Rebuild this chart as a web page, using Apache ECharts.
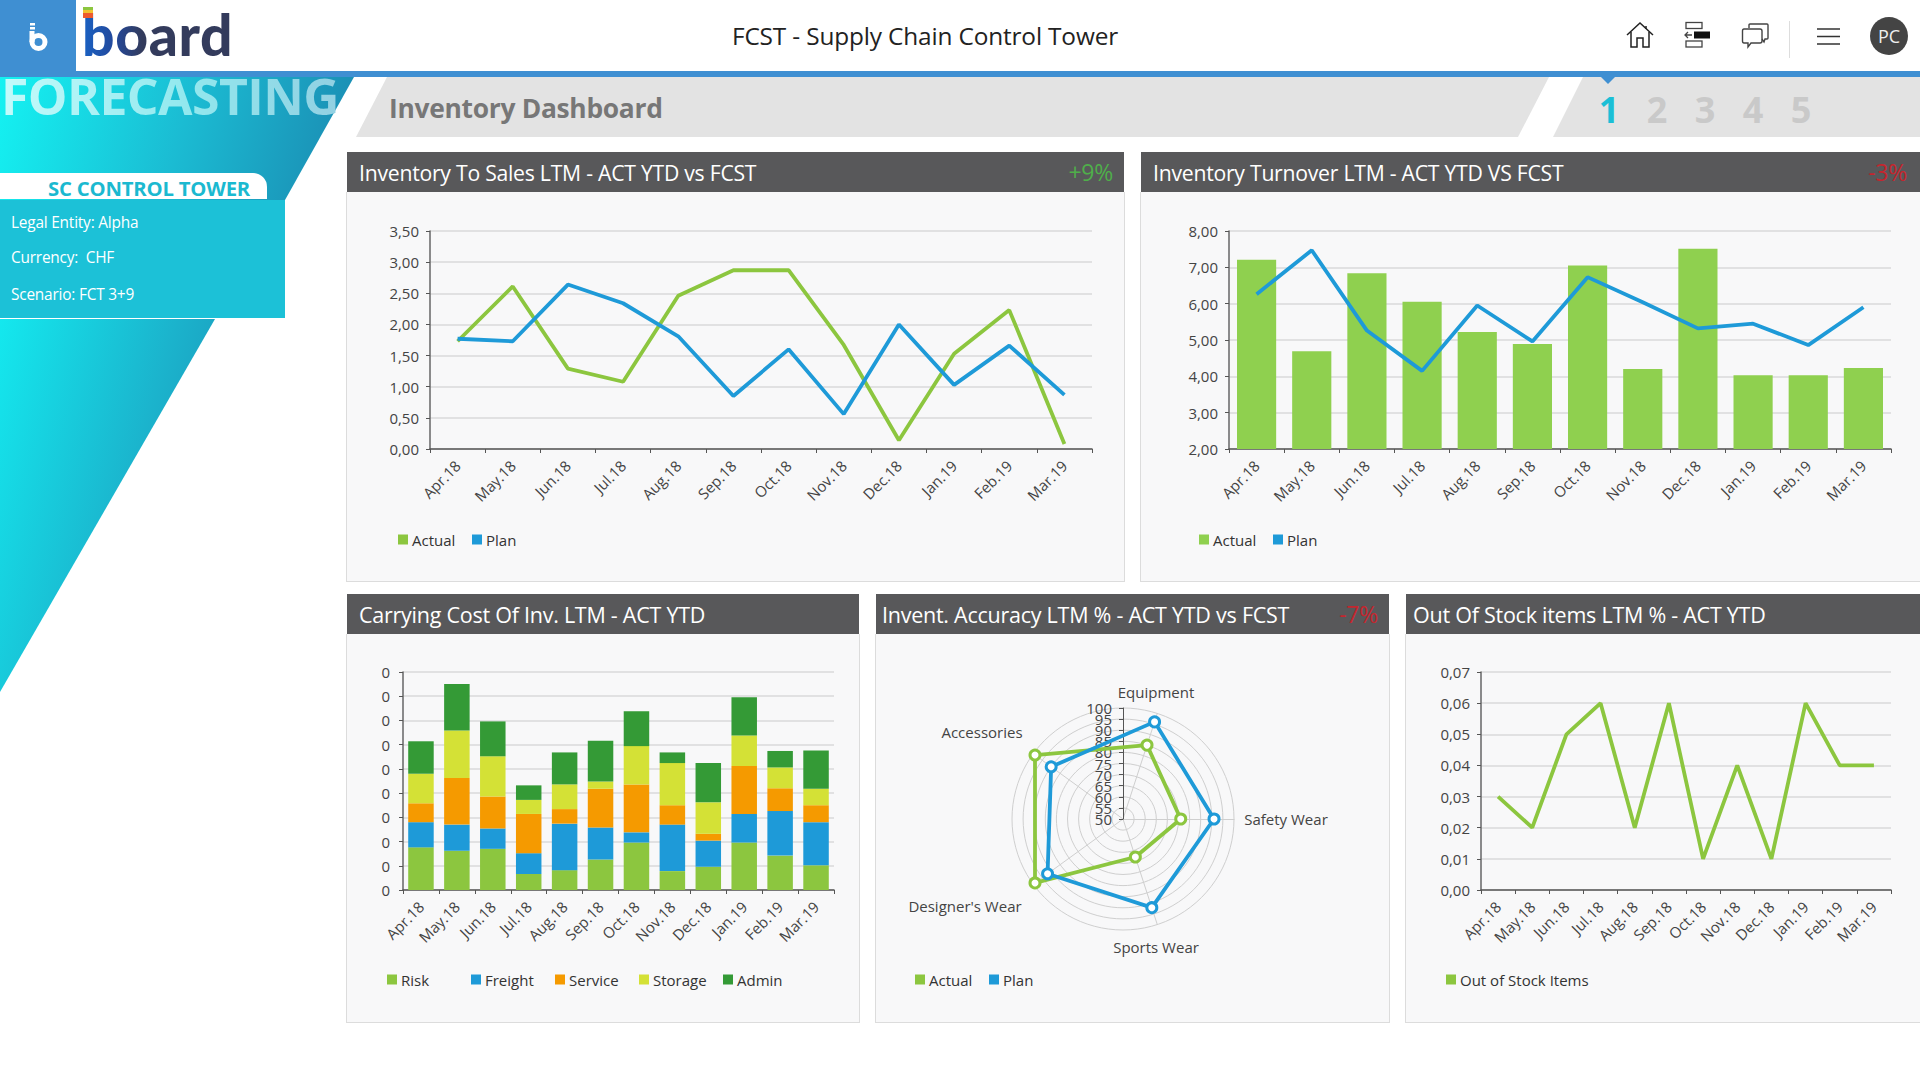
<!DOCTYPE html>
<html>
<head>
<meta charset="utf-8">
<title>FCST - Supply Chain Control Tower</title>
<script src="https://cdn.jsdelivr.net/npm/echarts@6/dist/echarts.min.js"></script>
<style>
  html, body { margin: 0; padding: 0; width: 1920px; height: 1080px; overflow: hidden; background: #fff; font-family: "Open Sans", sans-serif; }
  .abs { position: absolute; white-space: nowrap; }
  #logoBox { left: 0; top: 0; width: 76px; height: 71px; background: #3f8fd2; }
  #topBar { left: 0; top: 71px; width: 1920px; height: 6px; background: #3f8fd2; z-index: 5; }
  #side1 { left: 0; top: 77px; width: 354px; height: 123px; clip-path: polygon(0 0, 100% 0, 285px 100%, 0 100%); background: linear-gradient(105deg, #14f2f2 0%, #1bbcd3 50%, #1b88b0 100%); }
  #side2 { left: 0; top: 319px; width: 215px; height: 373px; clip-path: polygon(0 0, 100% 0, 0 100%); background: linear-gradient(105deg, #14e8ee 0%, #1bb4cd 55%, #1b8cb3 100%); }
  #sideBox { left: 0; top: 200px; width: 285px; height: 118px; background: #1cc1d7; }
  #pill { left: 0; top: 173px; width: 267px; height: 26px; background: #fff; border-radius: 0 14px 0 0; }
  #pillText { left: 0; top: 174px; width: 298px; height: 26px; line-height: 28px; text-align: center; font-size: 20.3px; font-weight: 700; color: #1bb9d0; letter-spacing: -0.2px; }
  #forecast { left: 1px; top: 64px; font-size: 50px; line-height: 64px; font-weight: 700; letter-spacing: -0.6px; background: linear-gradient(90deg, #c4fbfb 0%, #92e8ee 55%, #92d0e2 100%); -webkit-background-clip: text; background-clip: text; color: transparent; }
  .info { left: 11px; font-size: 15.4px; line-height: 20px; color: #fff; letter-spacing: -0.2px; }
  #band1 { left: 356px; top: 77px; width: 1193px; height: 60px; background: #e3e3e3; clip-path: polygon(31px 0, 100% 0, 1162px 100%, 0 100%); }
  #band2 { left: 1553px; top: 77px; width: 367px; height: 60px; background: #e3e3e3; clip-path: polygon(30px 0, 100% 0, 100% 100%, 0 100%); }
  #pageTitle { left: 389px; top: 88px; font-size: 26.4px; line-height: 40px; font-weight: 700; color: #777; letter-spacing: -0.3px; }
  .step { top: 88px; width: 40px; text-align: center; font-size: 36px; line-height: 44px; font-weight: 700; color: #c9c9c9; }
  #marker { left: 1601px; top: 77px; width: 0; height: 0; border-left: 7px solid transparent; border-right: 7px solid transparent; border-top: 7px solid #3f8fd2; }
  #mainTitle { left: 0; width: 1850px; top: 18px; line-height: 36px; font-size: 24.4px; color: #222; text-align: center; letter-spacing: -0.15px; }
  #avatar { left: 1870px; top: 17px; width: 38px; height: 38px; border-radius: 50%; background: #444; color: #eee; font-size: 18px; line-height: 38px; text-align: center; }
  #sep { left: 1789px; top: 21px; width: 1px; height: 37px; background: #ddd; }
  #wordmark { left: 82px; top: 0; font-family: Lato, sans-serif; font-weight: 900; font-size: 57px; line-height: 68px; letter-spacing: 0.6px; background: linear-gradient(90deg, #1a62c4 0%, #23489a 22%, #333b5c 40%, #333b5c 100%); -webkit-background-clip: text; background-clip: text; color: transparent; }
  .panel { position: absolute; background: #f8f8f9; border: 1px solid #dcdcdc; border-top: none; box-sizing: border-box; }
  .panelHead { position: absolute; left: 0; right: 0; top: -40px; height: 40px; background: #58585a; color: #fff; font-size: 21.5px; line-height: 41px; padding-left: 12px; white-space: nowrap; letter-spacing: -0.25px; }
  .panelHead.upper { font-size: 21.2px; }
  .panelHead span { position: absolute; right: 11px; top: 0; font-size: 23px; }
  .chart { position: absolute; left: 0; top: 0; width: 100%; height: 100%; }
</style>
</head>
<body>
<div class="abs" id="side1"></div>
<div class="abs" id="forecast">FORECASTING</div>
<div class="abs" id="side2"></div>
<div class="abs" id="sideBox"></div>
<div class="abs" id="pill"></div>
<div class="abs" id="pillText">SC CONTROL TOWER</div>
<div class="abs info" style="top:213px">Legal Entity: Alpha</div>
<div class="abs info" style="top:248px">Currency:&nbsp; CHF</div>
<div class="abs info" style="top:285px">Scenario: FCT 3+9</div>

<div class="abs" id="logoBox"></div>
<svg class="abs" style="left:28px;top:21px" width="22" height="32" viewBox="0 0 22 32">
  <rect x="2" y="2" width="5" height="2.500" fill="#fff"/><rect x="2" y="6" width="5" height="2.500" fill="#fff"/>
  <circle cx="10.500" cy="21" r="6.500" fill="none" stroke="#fff" stroke-width="5"/><rect x="1.500" y="10" width="5" height="11" fill="#fff"/>
</svg>
<div class="abs" id="wordmark">board</div>
<svg class="abs" style="left:83px;top:7px" width="10" height="11"><rect width="10" height="3" fill="#8cc63f"/><rect y="3" width="10" height="3" fill="#f2c230"/><rect y="6" width="10" height="5" fill="#ee5a2e"/></svg>
<div class="abs" id="topBar"></div>
<div class="abs" id="mainTitle">FCST - Supply Chain Control Tower</div>

<svg class="abs" style="left:1625px;top:20px" width="30" height="30" viewBox="0 0 30 30" fill="none" stroke="#222" stroke-width="1.5">
  <path d="M2 15 L15 3 L28 15"/><path d="M6 12 V27 H12 V18 H18 V27 H24 V12"/><path d="M21 6 V9"/>
</svg>
<svg class="abs" style="left:1684px;top:21px" width="28" height="28" viewBox="0 0 28 28" fill="none" stroke="#444" stroke-width="1.3">
  <rect x="2" y="1.500" width="16" height="6"/><rect x="2" y="20" width="16" height="6"/><rect x="10" y="10.500" width="16" height="7" fill="#111" stroke="none"/><path d="M8 14 H1 M4 11 L1 14 L4 17"/>
</svg>
<svg class="abs" style="left:1741px;top:22px" width="30" height="28" viewBox="0 0 30 28" fill="none" stroke="#444" stroke-width="1.4">
  <path d="M8 6 V3 Q8 2 9 2 H26 Q27 2 27 3 V16 Q27 17 26 17 H24 L23 20 L21 17"/>
  <path d="M3 7 H19 Q21 7 21 9 V19 Q21 21 19 21 H10 L7 25 V21 H3 Q1.500 21 1.500 19 V9 Q1.500 7 3 7 Z"/>
</svg>
<div class="abs" id="sep"></div>
<svg class="abs" style="left:1817px;top:28px" width="23" height="18" stroke="#333" stroke-width="1.3"><path d="M0 1 H23 M0 8.500 H23 M0 16 H23"/></svg>
<div class="abs" id="avatar">PC</div>

<div class="abs" id="band1"></div>
<div class="abs" id="band2"></div>
<div class="abs" id="marker"></div>
<div class="abs" id="pageTitle">Inventory Dashboard</div>
<div class="abs step" style="left:1589px;color:#1bbfd6">1</div>
<div class="abs step" style="left:1637px">2</div>
<div class="abs step" style="left:1685px">3</div>
<div class="abs step" style="left:1733px">4</div>
<div class="abs step" style="left:1781px">5</div>

<div class="panel" style="left:346px;top:192px;width:779px;height:390px">
  <div class="panelHead upper">Inventory To Sales LTM - ACT YTD vs FCST<span style="color:#4fae4a">+9%</span></div>
  <div class="chart" id="chartSales"></div>
</div>
<div class="panel" style="left:1140px;top:192px;width:781px;height:390px">
  <div class="panelHead upper">Inventory Turnover LTM - ACT YTD VS FCST<span style="color:#c4262e;right:13px">-3%</span></div>
  <div class="chart" id="chartTurnover"></div>
</div>
<div class="panel" style="left:346px;top:634px;width:514px;height:389px">
  <div class="panelHead">Carrying Cost Of Inv. LTM - ACT YTD</div>
  <div class="chart" id="chartCost"></div>
</div>
<div class="panel" style="left:875px;top:634px;width:515px;height:389px">
  <div class="panelHead" style="padding-left:6px">Invent. Accuracy LTM % - ACT YTD vs FCST<span style="color:#c4262e">-7%</span></div>
  <div class="chart" id="chartAccuracy"></div>
</div>
<div class="panel" style="left:1405px;top:634px;width:516px;height:389px">
  <div class="panelHead" style="padding-left:7px">Out Of Stock items LTM % - ACT YTD</div>
  <div class="chart" id="chartStock"></div>
</div>

<script>
const months = ["Apr.18", "May.18", "Jun.18", "Jul.18", "Aug.18", "Sep.18", "Oct.18", "Nov.18", "Dec.18", "Jan.19", "Feb.19", "Mar.19"];

const salesActual = [1.73, 2.61, 1.29, 1.08, 2.46, 2.87, 2.87, 1.67, 0.14, 1.53, 2.23, 0.08];
const salesPlan = [1.77, 1.73, 2.64, 2.34, 1.81, 0.85, 1.60, 0.56, 2.00, 1.03, 1.66, 0.87];

const turnoverActual = [7.21, 4.69, 6.84, 6.05, 5.22, 4.89, 7.05, 4.20, 7.51, 4.03, 4.03, 4.23];
const turnoverPlan = [6.26, 7.47, 5.26, 4.15, 5.95, 4.96, 6.73, 6.04, 5.32, 5.45, 4.86, 5.90];

const costRisk = [0.088, 0.081, 0.085, 0.033, 0.041, 0.063, 0.098, 0.039, 0.048, 0.098, 0.071, 0.051];
const costFreight = [0.052, 0.054, 0.042, 0.043, 0.096, 0.066, 0.021, 0.096, 0.054, 0.059, 0.092, 0.089];
const costService = [0.039, 0.096, 0.066, 0.081, 0.030, 0.080, 0.099, 0.040, 0.014, 0.099, 0.047, 0.035];
const costStorage = [0.061, 0.098, 0.083, 0.029, 0.051, 0.015, 0.079, 0.087, 0.065, 0.063, 0.043, 0.034];
const costAdmin = [0.067, 0.096, 0.072, 0.030, 0.066, 0.084, 0.072, 0.022, 0.081, 0.079, 0.034, 0.079];

const radarAxes = ["Equipment", "Accessories", "Designer's Wear", "Sports Wear", "Safety Wear"];
const accuracyActual = [85, 99, 99, 68, 76];
const accuracyPlan = [96, 90, 92, 92, 91];

const stockItems = [0.03, 0.02, 0.05, 0.06, 0.02, 0.06, 0.01, 0.04, 0.01, 0.06, 0.04, 0.04];

const GREEN = "#8cc63f";
const BAR_GREEN = "#8fd04f";
const BLUE = "#1e9ad8";
const ORANGE = "#f59a00";
const LIME = "#d4e136";
const DARK_GREEN = "#349a36";
const FONT = '"Open Sans", sans-serif';

const commaLabel = (v) => v.toFixed(2).replace(".", ",");

function makeChart(id, option) {
  const chart = echarts.init(document.getElementById(id), null, { renderer: "svg" });
  chart.setOption({ animation: false, textStyle: { fontFamily: FONT }, ...option });
  return chart;
}

// one legend per item so the squares sit where they do in the dashboard
function legendsAt(names, xs, top) {
  return names.map((name, i) => ({
    data: [name],
    left: xs[i],
    top: top,
    icon: "rect",
    itemWidth: 10,
    itemHeight: 10,
    itemGap: 0,
    padding: 0,
    textStyle: { color: "#333", fontSize: 15, fontFamily: FONT, padding: [0, 0, 0, -1] },
  }));
}

function monthAxis() {
  return {
    type: "category",
    data: months,
    axisLine: { lineStyle: { color: "#555", width: 1.5 } },
    axisTick: { show: true, length: 4, lineStyle: { color: "#555" } },
    axisLabel: { rotate: 45, fontSize: 15, color: "#444", margin: 14, interval: 0 },
  };
}

function valueAxis(min, max, interval, formatter, margin) {
  return {
    type: "value",
    min: min,
    max: max,
    interval: interval,
    axisLine: { show: true, lineStyle: { color: "#666", width: 1.5 } },
    axisTick: { show: true, length: 4, lineStyle: { color: "#555" } },
    axisLabel: { fontSize: 15, color: "#444", margin: margin || 11, formatter: formatter },
    splitLine: { lineStyle: { color: "#dadada", width: 1.5 } },
  };
}

function lineSeries(name, data, color) {
  return {
    name: name,
    type: "line",
    data: data,
    symbol: "none",
    itemStyle: { color: color },
    lineStyle: { color: color, width: 3.8 },
  };
}

makeChart("chartSales", {
  grid: { left: 83, top: 39, width: 662, height: 218 },
  legend: legendsAt(["Actual", "Plan"], [51, 125], 340),
  xAxis: monthAxis(),
  yAxis: valueAxis(0, 3.5, 0.5, commaLabel),
  series: [lineSeries("Actual", salesActual, GREEN), lineSeries("Plan", salesPlan, BLUE)],
});

makeChart("chartTurnover", {
  grid: { left: 88, top: 39, width: 662, height: 218 },
  legend: legendsAt(["Actual", "Plan"], [58, 132], 340),
  xAxis: monthAxis(),
  yAxis: valueAxis(2, 8, 1, commaLabel),
  series: [
    { name: "Actual", type: "bar", data: turnoverActual, barWidth: "71%", itemStyle: { color: BAR_GREEN } },
    lineSeries("Plan", turnoverPlan, BLUE),
  ],
});

// the real axis runs on small decimals, so every label rounds to 0
const costLayers = [
  ["Risk", costRisk, GREEN],
  ["Freight", costFreight, BLUE],
  ["Service", costService, ORANGE],
  ["Storage", costStorage, LIME],
  ["Admin", costAdmin, DARK_GREEN],
];

makeChart("chartCost", {
  grid: { left: 56, top: 38, width: 431, height: 218 },
  legend: legendsAt(costLayers.map((l) => l[0]), [40, 124, 208, 292, 376], 338),
  xAxis: monthAxis(),
  yAxis: valueAxis(0, 0.45, 0.05, (v) => v.toFixed(0), 13),
  series: costLayers.map(([name, data, color]) => ({
    name: name,
    type: "bar",
    stack: "cost",
    data: data,
    barWidth: "71%",
    itemStyle: { color: color },
  })),
});

function radarSeries(name, data, color) {
  return {
    name: name,
    type: "radar",
    data: [{ value: data, name: name }],
    symbol: "circle",
    symbolSize: 10,
    itemStyle: { color: "#fff", borderColor: color, borderWidth: 3 },
    lineStyle: { color: color, width: 3.8 },
  };
}

// upright value scale next to the radar. Its labels crowd each other in the
// dashboard too, and echarts drops crowded labels, so tens and fives get an axis each
function radarScale(gridIndex, min, max) {
  return {
    type: "value",
    gridIndex: gridIndex,
    min: min,
    max: max,
    interval: 10,
    axisLine: { show: true, lineStyle: { color: "#555" } },
    axisTick: { show: true, length: 4, lineStyle: { color: "#555" } },
    axisLabel: { fontSize: 15, color: "#444", margin: 11, hideOverlap: false },
    splitLine: { show: false },
  };
}

// the dashboard places these names by hand around the radar
const radarNameSpots = [[280, 58], [106, 98], [89, 272], [280, 313], [410, 185]];

makeChart("chartAccuracy", {
  radar: {
    center: [247, 185],
    radius: 111,
    startAngle: 72,
    shape: "circle",
    splitNumber: 10,
    axisName: { show: false },
    axisLine: { lineStyle: { color: "#cfcfcf" } },
    splitLine: { lineStyle: { color: "#cfcfcf" } },
    splitArea: { show: false },
    indicator: radarAxes.map((name) => ({ name: name, min: 50, max: 100 })),
  },
  graphic: radarAxes.map((name, i) => ({
    type: "text",
    x: radarNameSpots[i][0],
    y: radarNameSpots[i][1],
    style: { text: name, fill: "#444", fontSize: 15, fontFamily: FONT, align: "center", verticalAlign: "middle" },
  })),
  grid: [
    { left: 247, top: 74, width: 1, height: 111 },
    { left: 247, top: 85.1, width: 1, height: 88.8 },
  ],
  xAxis: [
    { type: "value", show: false, gridIndex: 0 },
    { type: "value", show: false, gridIndex: 1 },
  ],
  yAxis: [radarScale(0, 50, 100), radarScale(1, 55, 95)],
  legend: [
    { ...legendsAt(["Actual"], [39], 338)[0], itemStyle: { color: GREEN, borderWidth: 0 } },
    { ...legendsAt(["Plan"], [113], 338)[0], itemStyle: { color: BLUE, borderWidth: 0 } },
  ],
  series: [radarSeries("Actual", accuracyActual, GREEN), radarSeries("Plan", accuracyPlan, BLUE)],
});

makeChart("chartStock", {
  grid: { left: 75, top: 38, width: 410, height: 218 },
  legend: legendsAt(["Out of Stock Items"], [40], 338),
  xAxis: monthAxis(),
  yAxis: valueAxis(0, 0.07, 0.01, commaLabel),
  series: [lineSeries("Out of Stock Items", stockItems, GREEN)],
});
</script>
</body>
</html>
